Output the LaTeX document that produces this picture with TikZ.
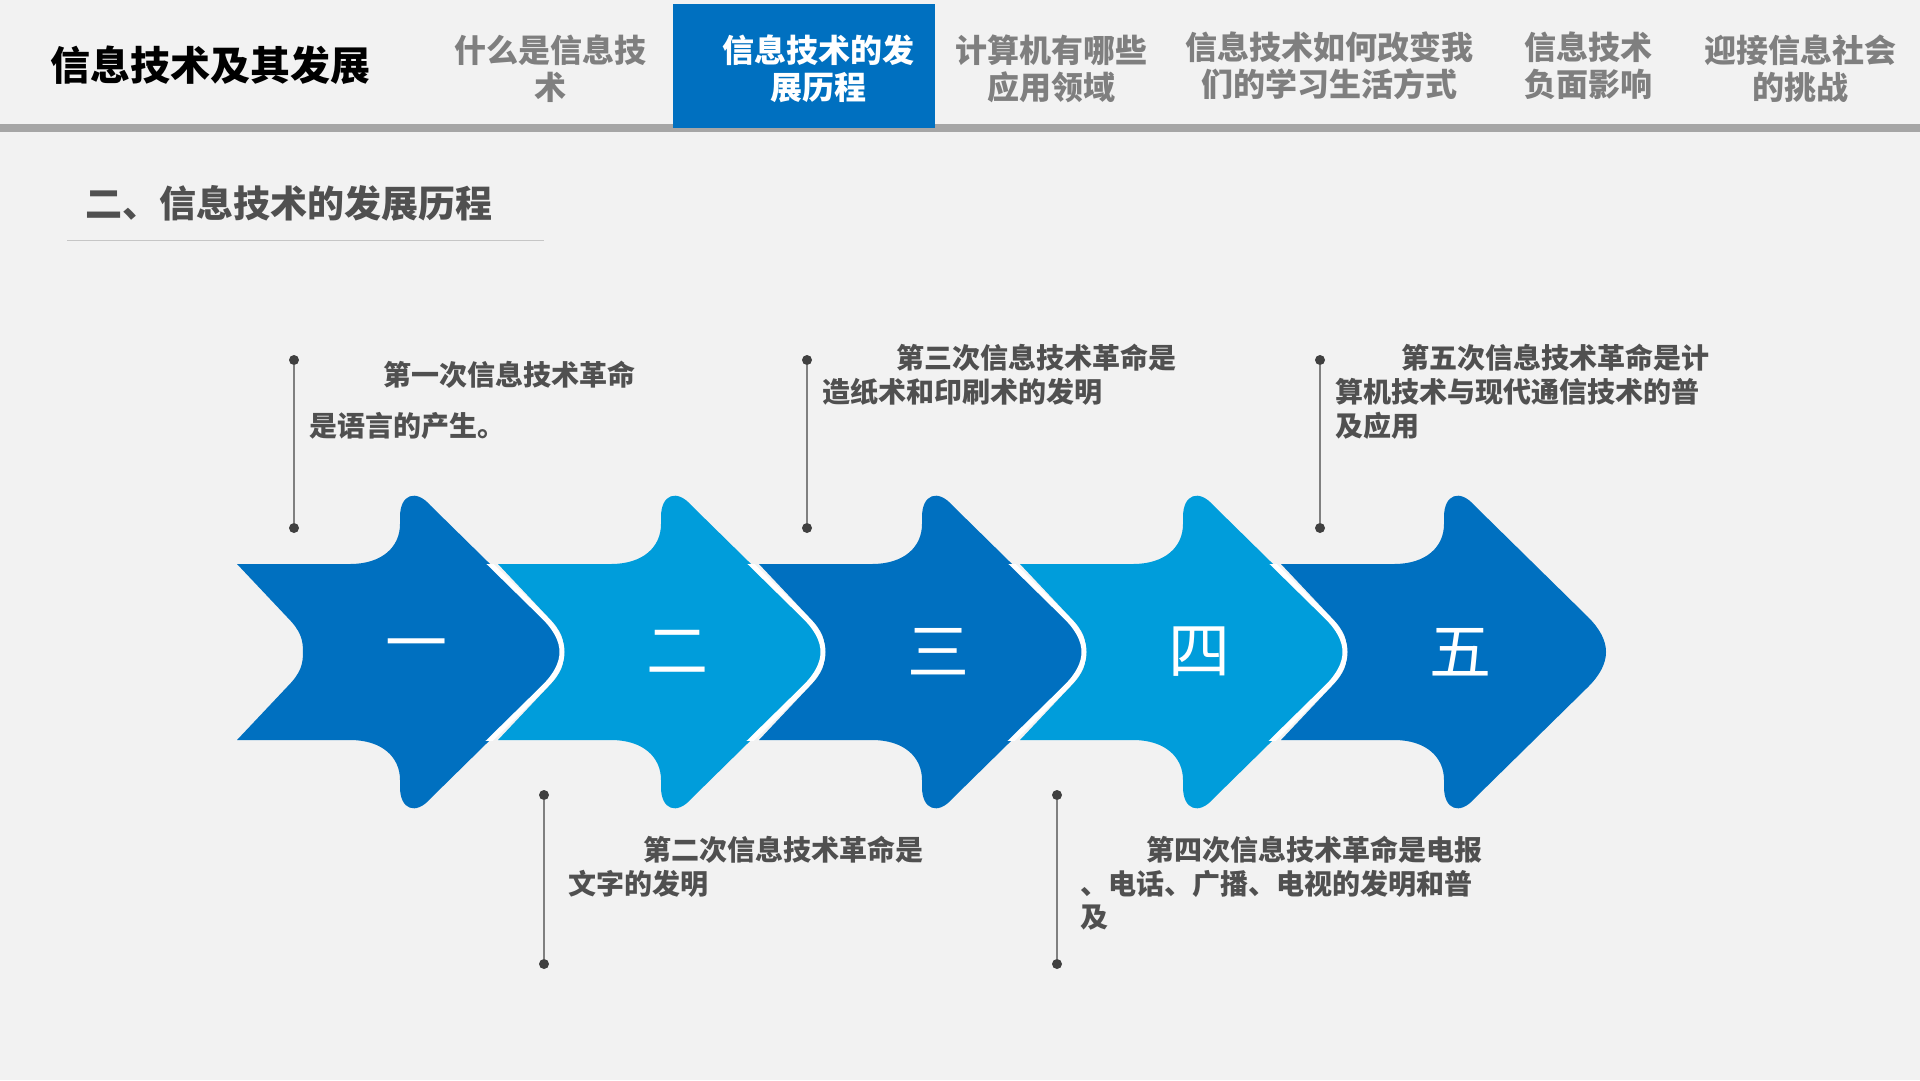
\documentclass[tikz,border=0pt]{standalone}
\usepackage{fontspec}
\setmainfont{Noto Sans CJK SC}
\tikzset{>=stealth}
\definecolor{darkblue}{HTML}{0070C0}
\definecolor{lightblue}{HTML}{009DDB}
\definecolor{bggray}{HTML}{F2F2F2}
\definecolor{txtgray}{HTML}{505050}
\definecolor{tabgray}{HTML}{7F7F7F}
\definecolor{bargray}{HTML}{A6A6A6}
\definecolor{pingray}{HTML}{404040}
\tikzset{
  tab/.style={text=tabgray, font=\fontsize{32}{37}\selectfont\bfseries, align=center, inner sep=0pt},
  note/.style={text=txtgray, font=\fontsize{28}{34}\selectfont\bfseries, anchor=west, inner sep=0pt},
  pin/.style={circle, fill=pingray, inner sep=0pt, minimum size=10pt},
  stem/.style={draw=gray, line width=1.2pt},
  numeral/.style={text=white, font=\fontsize{62}{66}\selectfont}
}

\begin{document}
\begin{tikzpicture}[x=1pt, y=-1pt]
\useasboundingbox (0,0) rectangle (1920,1080);
\fill[bggray] (0,0) rectangle (1920,1080);
\fill[bargray] (0,124) rectangle (1920,132);
\fill[darkblue] (673,4) rectangle (935,128);
\node[anchor=west, font=\fontsize{40}{44}\selectfont\bfseries] (title) at (47,65) {信息技术及其发展};
\node[tab] (tab1) at (550,69) {什么是信息技\\术};
\node[tab, text=white] (tab2) at (818,69) {信息技术的发\\展历程};
\node[tab] (tab3) at (1051,69) {计算机有哪些\\应用领域};
\node[tab] (tab4) at (1329,66) {信息技术如何改变我\\们的学习生活方式};
\node[tab] (tab5) at (1588,66) {信息技术\\负面影响};
\node[tab] (tab6) at (1800,69) {迎接信息社会\\的挑战};
\node[anchor=west, inner sep=0pt, text=txtgray, font=\fontsize{37}{40}\selectfont\bfseries] (sub) at (85,203) {二、信息技术的发展历程};
\coordinate (ul-a) at (67,240);
\coordinate (ul-b) at (544,240);
\draw[gray!45, line width=1pt] (ul-a) -- (ul-b);

\foreach \ax/\col/\num/\op in {1460/darkblue/五/0, 1199/lightblue/四/1, 938/darkblue/三/1, 677/lightblue/二/1, 416/darkblue/一/1}{
  \begin{scope}[shift={(\ax,652)}]
  \fill[\col]
    (-179,-88) -- (-66,-88)
    .. controls (-34,-88) and (-16,-105) .. (-16,-128) -- (-16,-135)
    .. controls (-16,-158) and (0,-163) .. (14,-147)
    -- (128,-35)
    .. controls (152,-11) and (152,11) .. (128,35)
    -- (14,147)
    .. controls (0,163) and (-16,158) .. (-16,135) -- (-16,128)
    .. controls (-16,105) and (-34,88) .. (-66,88)
    -- (-179,88) -- (-129,35)
    .. controls (-115,21) and (-113,12) .. (-113,0)
    .. controls (-113,-12) and (-115,-21) .. (-129,-35) -- cycle;
  \clip (-200,-88) rectangle (200,88);
  \draw[white, line width=5pt, draw opacity=\op]
    (14,-147) -- (128,-35)
    .. controls (152,-11) and (152,11) .. (128,35) -- (14,147);
  \end{scope}
  \node[numeral] (num-\ax) at (\ax,652) {\num};
}

\node[pin] (p1a) at (294,360) {};
\node[pin] (p1b) at (294,528) {};
\draw[stem] (p1a) -- (p1b);
\node[note] (t1a) at (383,375) {第一次信息技术革命};
\node[note] (t1b) at (309,426) {是语言的产生。};

\node[pin] (p3a) at (807,360) {};
\node[pin] (p3b) at (807,528) {};
\draw[stem] (p3a) -- (p3b);
\node[note] (t3a) at (896,358) {第三次信息技术革命是};
\node[note] (t3b) at (822,392) {造纸术和印刷术的发明};

\node[pin] (p5a) at (1320,360) {};
\node[pin] (p5b) at (1320,528) {};
\draw[stem] (p5a) -- (p5b);
\node[note] (t5a) at (1401,358) {第五次信息技术革命是计};
\node[note] (t5b) at (1335,392) {算机技术与现代通信技术的普};
\node[note] (t5c) at (1335,426) {及应用};

\node[pin] (p2a) at (544,795) {};
\node[pin] (p2b) at (544,964) {};
\draw[stem] (p2a) -- (p2b);
\node[note] (t2a) at (643,850) {第二次信息技术革命是};
\node[note] (t2b) at (568,884) {文字的发明};

\node[pin] (p4a) at (1057,795) {};
\node[pin] (p4b) at (1057,964) {};
\draw[stem] (p4a) -- (p4b);
\node[note] (t4a) at (1146,850) {第四次信息技术革命是电报};
\node[note] (t4b) at (1080,884) {、电话、广播、电视的发明和普};
\node[note] (t4c) at (1080,918) {及};
\end{tikzpicture}
\end{document}
